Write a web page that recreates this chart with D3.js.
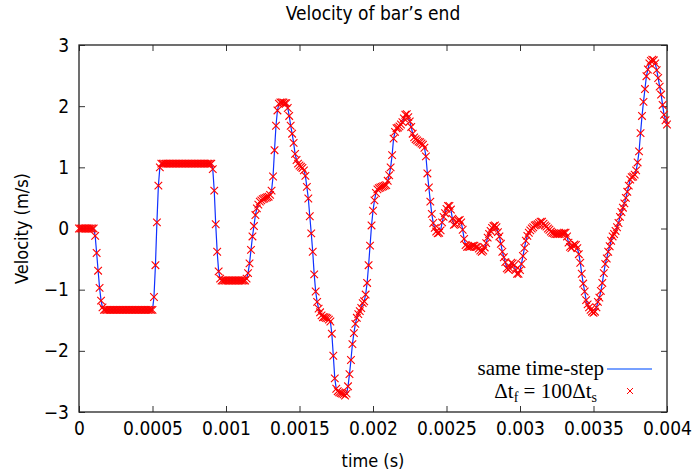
<!DOCTYPE html>
<html>
<head>
<meta charset="utf-8">
<script src="https://cdn.jsdelivr.net/npm/d3@7"></script>
<style>
  body { margin: 0; background: #fff; }
  svg text { font-family: "DejaVu Sans Condensed", "DejaVu Sans", sans-serif; font-stretch: condensed; fill: #000; }
</style>
</head>
<body>
<div id="chart"></div>
<script>
// time step of the samples (s)
const dt = 1e-5;

// velocity of the bar's end (m/s), one value per time step
const velocity = [
  0, 0, 0, 0, 0, 0, 0, 0, 0, 0,
  0, -0.12, -0.40, -0.69, -0.97, -1.18, -1.29, -1.33, -1.33, -1.33,
  -1.33, -1.33, -1.33, -1.33, -1.33, -1.33, -1.33, -1.33, -1.33, -1.33,
  -1.33, -1.33, -1.33, -1.33, -1.33, -1.33, -1.33, -1.33, -1.33, -1.33,
  -1.33, -1.33, -1.33, -1.33, -1.33, -1.33, -1.33, -1.33, -1.33, -1.33,
  -1.33, -1.12, -0.60, 0.10, 0.70, 1.00, 1.06, 1.06, 1.06, 1.06,
  1.06, 1.06, 1.06, 1.06, 1.06, 1.06, 1.06, 1.06, 1.06, 1.06,
  1.06, 1.06, 1.06, 1.06, 1.06, 1.06, 1.06, 1.06, 1.06, 1.06,
  1.06, 1.06, 1.06, 1.06, 1.06, 1.06, 1.06, 1.06, 1.06, 1.06,
  1.06, 0.97, 0.62, 0.07, -0.38, -0.70, -0.82, -0.85, -0.85, -0.85,
  -0.85, -0.85, -0.85, -0.85, -0.85, -0.85, -0.85, -0.85, -0.85, -0.85,
  -0.85, -0.85, -0.85, -0.85, -0.82, -0.73, -0.57, -0.35, -0.13, 0.04,
  0.22, 0.33, 0.39, 0.44, 0.46, 0.48, 0.49, 0.50, 0.51, 0.52,
  0.55, 0.62, 0.85, 1.28, 1.68, 1.93, 2.04, 2.06, 2.06, 2.06,
  2.05, 2.05, 1.97, 1.84, 1.68, 1.55, 1.40, 1.22, 1.12, 1.06,
  1.03, 1.01, 0.99, 0.95, 0.86, 0.68, 0.49, 0.20, -0.08, -0.38,
  -0.75, -1.03, -1.20, -1.31, -1.37, -1.42, -1.45, -1.45, -1.46, -1.47,
  -1.49, -1.52, -1.72, -2.08, -2.45, -2.62, -2.66, -2.68, -2.69, -2.70,
  -2.71, -2.73, -2.70, -2.58, -2.38, -2.15, -1.89, -1.71, -1.56, -1.46,
  -1.40, -1.35, -1.30, -1.22, -1.19, -1.08, -0.89, -0.60, -0.28, 0.05,
  0.29, 0.46, 0.58, 0.64, 0.66, 0.67, 0.68, 0.69, 0.70, 0.71,
  0.78, 0.87, 1.00, 1.20, 1.47, 1.58, 1.64, 1.65, 1.67, 1.70,
  1.74, 1.80, 1.86, 1.87, 1.82, 1.75, 1.66, 1.55, 1.49, 1.46,
  1.44, 1.42, 1.41, 1.39, 1.37, 1.32, 1.18, 0.90, 0.67, 0.44,
  0.24, 0.09, 0.01, -0.05, -0.08, -0.07, -0.03, 0.10, 0.19, 0.25,
  0.32, 0.37, 0.37, 0.31, 0.16, 0.06, 0.07, 0.11, 0.13, 0.14,
  0.10, -0.02, -0.17, -0.27, -0.30, -0.30, -0.30, -0.29, -0.28, -0.28,
  -0.30, -0.30, -0.33, -0.36, -0.38, -0.36, -0.31, -0.24, -0.15, -0.09,
  -0.04, 0.01, 0.04, 0.05, 0.02, -0.06, -0.13, -0.25, -0.38, -0.47,
  -0.55, -0.65, -0.67, -0.65, -0.56, -0.57, -0.60, -0.68, -0.74, -0.74,
  -0.68, -0.58, -0.45, -0.32, -0.20, -0.12, -0.07, -0.03, 0.00, 0.02,
  0.05, 0.06, 0.07, 0.09, 0.11, 0.11, 0.08, 0.05, 0.03, 0.00,
  -0.02, -0.05, -0.07, -0.08, -0.09, -0.09, -0.09, -0.09, -0.08, -0.08,
  -0.07, -0.07, -0.13, -0.23, -0.30, -0.32, -0.28, -0.26, -0.27, -0.32,
  -0.42, -0.56, -0.74, -0.90, -1.03, -1.17, -1.24, -1.29, -1.33, -1.36,
  -1.38, -1.36, -1.29, -1.20, -1.13, -1.02, -0.89, -0.73, -0.58, -0.49,
  -0.38, -0.29, -0.20, -0.13, -0.09, -0.04, 0.02, 0.09, 0.19, 0.27,
  0.34, 0.41, 0.50, 0.60, 0.70, 0.80, 0.84, 0.85, 0.88, 0.95,
  1.08, 1.26, 1.56, 1.84, 2.07, 2.28, 2.49, 2.60, 2.70, 2.74,
  2.76, 2.75, 2.70, 2.59, 2.46, 2.32, 2.19, 2.02, 1.86, 1.77,
  1.70
];

const xTicks = [0, 0.0005, 0.001, 0.0015, 0.002, 0.0025, 0.003, 0.0035, 0.004];
const xTickLabels = ["0", "0.0005", "0.001", "0.0015", "0.002", "0.0025", "0.003", "0.0035", "0.004"];
const yTicks = [-3, -2, -1, 0, 1, 2, 3];
const seriesNames = ["same time-step", "dt"];

const data = velocity.map((v, i) => ({ t: i * dt, v: v }));

const width = 694;
const height = 474;
const margin = { top: 45, right: 27, bottom: 62, left: 79 };

const svg = d3
  .select("#chart")
  .append("svg")
  .attr("width", width)
  .attr("height", height);

const x = d3
  .scaleLinear()
  .domain([0, 0.004])
  .range([margin.left, width - margin.right]);

const y = d3
  .scaleLinear()
  .domain([-3, 3])
  .range([height - margin.bottom, margin.top]);

// axes: ticks point inward on all four sides, labels only bottom/left
const fmt = (d) => xTickLabels[xTicks.indexOf(d)];

svg
  .append("g")
  .attr("transform", `translate(0,${height - margin.bottom})`)
  .call(d3.axisBottom(x).tickValues(xTicks).tickFormat(fmt).tickSizeInner(-6).tickSizeOuter(0).tickPadding(10));

svg
  .append("g")
  .attr("transform", `translate(${margin.left},0)`)
  .call(d3.axisLeft(y).tickValues(yTicks).tickFormat(d3.format("d")).tickSizeInner(-6).tickSizeOuter(0).tickPadding(10));

svg
  .append("g")
  .attr("transform", `translate(0,${margin.top})`)
  .call(d3.axisTop(x).tickValues(xTicks).tickFormat("").tickSizeInner(-6).tickSizeOuter(0));

svg
  .append("g")
  .attr("transform", `translate(${width - margin.right},0)`)
  .call(d3.axisRight(y).tickValues(yTicks).tickFormat("").tickSizeInner(-6).tickSizeOuter(0));

svg.selectAll(".domain").remove();
svg.selectAll(".tick line").attr("stroke", "#333").attr("stroke-width", 1);
svg.selectAll(".tick text").style("font-size", "19px").attr("fill", "#000");

svg
  .append("rect")
  .attr("x", margin.left)
  .attr("y", margin.top)
  .attr("width", width - margin.left - margin.right)
  .attr("height", height - margin.top - margin.bottom)
  .attr("fill", "none")
  .attr("stroke", "#222")
  .attr("stroke-width", 1.3);

// series
const line = d3
  .line()
  .x((d) => x(d.t))
  .y((d) => y(d.v));

svg
  .append("path")
  .datum(data)
  .attr("d", line)
  .attr("fill", "none")
  .attr("stroke", "#1030ff")
  .attr("stroke-width", 1.2);

const cross = "M-3.8,-3.8L3.8,3.8M-3.8,3.8L3.8,-3.8";

svg
  .append("g")
  .selectAll("path")
  .data(data)
  .enter()
  .append("path")
  .attr("d", cross)
  .attr("transform", (d) => `translate(${x(d.t)},${y(d.v)})`)
  .attr("fill", "none")
  .attr("stroke", "#ff0000")
  .attr("stroke-width", 1.1);

// titles
svg
  .append("text")
  .attr("x", (margin.left + width - margin.right) / 2)
  .attr("y", 20)
  .attr("text-anchor", "middle")
  .style("font-size", "19px")
  .text("Velocity of bar\u2019s end");

svg
  .append("text")
  .attr("x", (margin.left + width - margin.right) / 2)
  .attr("y", 467)
  .attr("text-anchor", "middle")
  .style("font-size", "18px")
  .text("time (s)");

svg
  .append("text")
  .attr("transform", `translate(28,${(margin.top + height - margin.bottom) / 2}) rotate(-90)`)
  .attr("text-anchor", "middle")
  .style("font-size", "18px")
  .text("Velocity (m/s)");

// legend
const legend = svg.append("g");

legend
  .append("text")
  .attr("x", 604)
  .attr("y", 375)
  .attr("text-anchor", "end")
  .style("font-family", "'Liberation Serif', serif")
  .style("font-size", "21px")
  .text(seriesNames[0]);

legend
  .append("line")
  .attr("x1", 607)
  .attr("x2", 652)
  .attr("y1", 369)
  .attr("y2", 369)
  .attr("stroke", "#4a80ff")
  .attr("stroke-width", 1.6);

const t2 = legend
  .append("text")
  .attr("x", 597)
  .attr("y", 398)
  .attr("text-anchor", "end")
  .style("font-family", "'Liberation Serif', serif")
  .style("font-size", "21px");
t2.append("tspan").text("\u0394t");
t2.append("tspan").attr("dy", 4).style("font-size", "14px").text("f");
t2.append("tspan").attr("dy", -4).text(" = 100\u0394t");
t2.append("tspan").attr("dy", 4).style("font-size", "14px").text("s");

legend
  .append("path")
  .attr("d", "M-3,-3L3,3M-3,3L3,-3")
  .attr("transform", "translate(630,391)")
  .attr("fill", "none")
  .attr("stroke", "#ff0000")
  .attr("stroke-width", 1);
</script>
</body>
</html>
